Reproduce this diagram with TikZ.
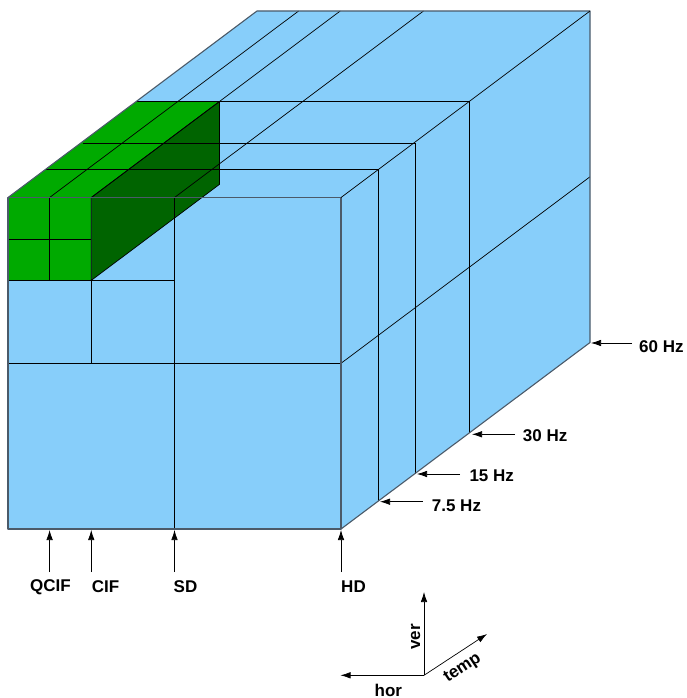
\documentclass[tikz,border=0pt]{standalone}
\usepackage{fontspec}
\setmainfont{Liberation Sans}
\usetikzlibrary{arrows.meta}
\definecolor{cubeblue}{RGB}{135,206,250}
\definecolor{lgreen}{RGB}{0,170,0}
\definecolor{dgreen}{RGB}{0,100,0}
\definecolor{edgegray}{RGB}{75,90,105}
\begin{document}
\begin{tikzpicture}[x=1pt,y=-1pt,
  grid/.style={draw=black,line width=0.7pt},
  outer/.style={draw=edgegray,line width=1.1pt,line join=round},
  arr/.style={draw=black,line width=0.7pt,-{Latex[length=10pt,width=6.5pt]}},
  lbl/.style={inner sep=0pt,font=\fontsize{17}{20}\selectfont\bfseries}]
\useasboundingbox (0,0) rectangle (687,698);
% corners of the big box
\coordinate (A) at (8,197.5);
\coordinate (B) at (341,197.5);
\coordinate (C) at (341,529);
\coordinate (E) at (8,529);
\coordinate (Ab) at (257,11);
\coordinate (Bb) at (590,11);
\coordinate (Cb) at (590,342.5);
% faces
\fill[cubeblue] (A) -- (B) -- (C) -- (E) -- cycle;
\fill[cubeblue] (A) -- (Ab) -- (Bb) -- (B) -- cycle;
\fill[cubeblue] (B) -- (Bb) -- (Cb) -- (C) -- cycle;
% green box
\fill[lgreen] (8,197.5) rectangle (91.25,280.4);
\fill[lgreen] (8,197.5) -- (136.2,101.5) -- (219.45,101.5) -- (91.25,197.5) -- cycle;
\fill[dgreen] (91.25,197.5) -- (219.45,101.5) -- (219.45,184.4) -- (91.25,280.4) -- cycle;
% depth slices (7.5, 15, 30 Hz)
\draw[grid] (45.35,169.5) -- (378.35,169.5) -- (378.35,501);
\draw[grid] (82.7,143) -- (415.7,143) -- (415.7,474);
\draw[grid] (136.2,101.5) -- (469.2,101.5) -- (469.2,433);
% top face width lines (QCIF, CIF, SD)
\draw[grid] (49.6,197.5) -- (298.6,11);
\draw[grid] (91.25,197.5) -- (340.25,11);
\draw[grid] (174.5,197.5) -- (423.5,11);
% right face height line (SD)
\draw[grid] (341,363.3) -- (590,176.8);
% front face lines
\draw[grid] (174.5,197.5) -- (174.5,529);
\draw[grid] (8,363.3) -- (341,363.3);
\draw[grid] (8,280.4) -- (174.5,280.4);
\draw[grid] (91.25,280.4) -- (91.25,363.3);
\draw[grid] (49.6,197.5) -- (49.6,280.4);
\draw[grid] (8,238.9) -- (91.25,238.9);
% green box outline
\draw[grid] (91.25,197.5) -- (91.25,280.4) -- (219.45,184.4) -- (219.45,101.5);
\draw[grid] (91.25,197.5) -- (219.45,101.5);
% outer edges
\draw[outer] (A) -- (B) -- (C) -- (E) -- cycle;
\draw[outer] (A) -- (Ab) -- (Bb) -- (Cb) -- (C);
\draw[grid] (B) -- (Bb);
% resolution labels
\node[lbl] (qcif) at (50.5,587) {QCIF};
\node[lbl] (cif) at (105.5,587) {CIF};
\node[lbl] (sd) at (185.5,587) {SD};
\node[lbl] (hd) at (353.5,587) {HD};
\coordinate (qcifT) at (49.6,572); \coordinate (qcifH) at (49.6,530);
\coordinate (cifT) at (91.25,572); \coordinate (cifH) at (91.25,530);
\coordinate (sdT) at (174.5,572); \coordinate (sdH) at (174.5,530);
\coordinate (hdT) at (341,572); \coordinate (hdH) at (341,530);
\draw[arr] (qcifT) -- (qcifH);
\draw[arr] (cifT) -- (cifH);
\draw[arr] (sdT) -- (sdH);
\draw[arr] (hdT) -- (hdH);
% frame-rate labels
\node[lbl,anchor=west] (f60) at (639,346.5) {60 Hz};
\node[lbl,anchor=west] (f30) at (522.7,435.7) {30 Hz};
\node[lbl,anchor=west] (f15) at (469.3,475.7) {15 Hz};
\node[lbl,anchor=west] (f75) at (431.7,505.7) {7.5 Hz};
\coordinate (t60) at (632,343); \coordinate (h60) at (591,343);
\coordinate (t30) at (515,434.3); \coordinate (h30) at (472,434.3);
\coordinate (t15) at (460,474); \coordinate (h15) at (417,474);
\coordinate (t75) at (422.7,501.7); \coordinate (h75) at (380,501.7);
\draw[arr] (t60) -- (h60);
\draw[arr] (t30) -- (h30);
\draw[arr] (t15) -- (h15);
\draw[arr] (t75) -- (h75);
% axes
\coordinate (O) at (424,675.3);
\coordinate (Over) at (424,592);
\coordinate (Ohor) at (340.5,675.3);
\coordinate (Otemp) at (487,634);
\draw[arr] (O) -- (Over);
\draw[arr] (O) -- (Ohor);
\draw[arr] (O) -- (Otemp);
\node[lbl,rotate=90] (ver) at (415.7,636.7) {ver};
\node[lbl] (hor) at (388.3,690.3) {hor};
\node[lbl,rotate=33.4] (temp) at (462.7,668.3) {temp};
\end{tikzpicture}
\end{document}
